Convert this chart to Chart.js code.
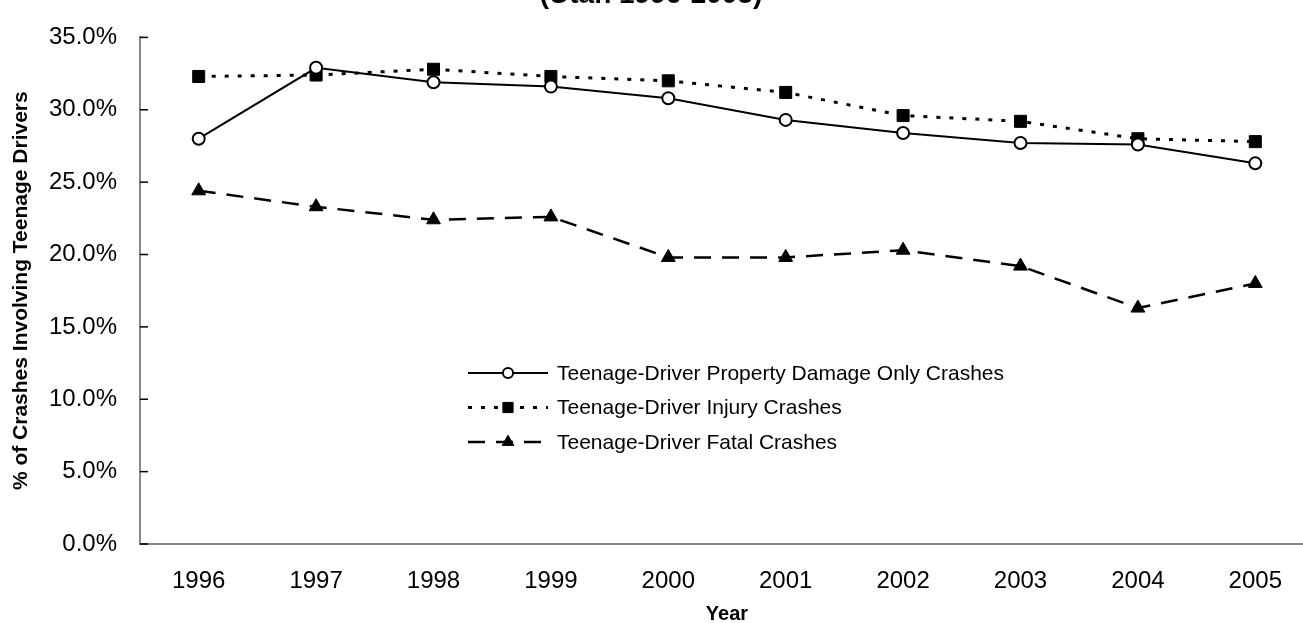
<!DOCTYPE html>
<html>
<head>
<meta charset="utf-8">
<script src="https://cdn.jsdelivr.net/npm/chart.js@4.4.1/dist/chart.umd.min.js"></script>
<style>
  html, body { margin: 0; padding: 0; background: #fff; overflow: hidden; }
  #wrap { position: relative; width: 1330px; height: 623px; }
</style>
</head>
<body>
<div id="wrap"><canvas id="crashChart"></canvas></div>
<script>
// data (% of crashes involving teenage drivers)
const years = ["1996", "1997", "1998", "1999", "2000", "2001", "2002", "2003", "2004", "2005"];
const propertyDamage = [28.0, 32.9, 31.9, 31.6, 30.8, 29.3, 28.4, 27.7, 27.6, 26.3];
const injury = [32.3, 32.4, 32.8, 32.3, 32.0, 31.2, 29.6, 29.2, 28.0, 27.8];
const fatal = [24.4, 23.3, 22.4, 22.6, 19.8, 19.8, 20.3, 19.2, 16.3, 18.0];
const seriesNames = [
  "Teenage-Driver Property Damage Only Crashes",
  "Teenage-Driver Injury Crashes",
  "Teenage-Driver Fatal Crashes",
];
const subTitle = "(Utah 1996-2005)";
const yTitle = "% of Crashes Involving Teenage Drivers";
const xTitle = "Year";

const FONT = "'Liberation Sans', Arial, sans-serif";
Chart.defaults.font.family = FONT;
Chart.defaults.color = "#000";

function drawMarker(ctx, style, x, y, r) {
  ctx.beginPath();
  if (style === "circle") {
    ctx.arc(x, y, r, 0, Math.PI * 2);
  } else if (style === "rect") {
    const s = r * Math.SQRT1_2;
    ctx.rect(x - s, y - s, s * 2, s * 2);
  } else if (style === "triangle") {
    // same shape chart.js uses for its triangle points
    const dx = Math.sin(2 * Math.PI / 3) * r;
    const dy = -Math.cos(2 * Math.PI / 3) * r;
    ctx.moveTo(x, y - r);
    ctx.lineTo(x + dx, y + dy);
    ctx.lineTo(x - dx, y + dy);
    ctx.closePath();
  }
}

// small tick marks pointing into the plot, like the original
const insideTicks = {
  id: "insideTicks",
  beforeDatasetsDraw(chart) {
    const y = chart.scales.y;
    const ctx = chart.ctx;
    const left = chart.chartArea.left;
    ctx.save();
    ctx.strokeStyle = "#000";
    ctx.lineWidth = 1.5;
    y.ticks.forEach((t) => {
      const py = y.getPixelForValue(t.value);
      ctx.beginPath();
      ctx.moveTo(left, py);
      ctx.lineTo(left + 8, py);
      ctx.stroke();
    });
    ctx.restore();
  },
};

// legend sitting inside the plot area
const innerLegend = {
  id: "innerLegend",
  afterDraw(chart, args, opts) {
    const ctx = chart.ctx;
    ctx.save();
    chart.data.datasets.forEach((ds, i) => {
      const y = opts.y + i * opts.gap;
      ctx.strokeStyle = ds.borderColor;
      ctx.lineWidth = ds.borderWidth;
      ctx.setLineDash(ds.borderDash || []);
      ctx.beginPath();
      ctx.moveTo(opts.x, y);
      ctx.lineTo(opts.x + opts.lineLen, y);
      ctx.stroke();
      ctx.setLineDash([]);
      drawMarker(ctx, ds.pointStyle, opts.x + opts.lineLen / 2, y, ds.pointRadius * 0.85);
      ctx.fillStyle = ds.pointBackgroundColor;
      ctx.fill();
      ctx.lineWidth = ds.pointBorderWidth;
      ctx.strokeStyle = ds.pointBorderColor;
      ctx.stroke();
      ctx.fillStyle = "#000";
      ctx.font = opts.font;
      ctx.textAlign = "left";
      ctx.textBaseline = "middle";
      ctx.fillText(ds.label, opts.x + opts.lineLen + 9, y + 1);
    });
    ctx.restore();
  },
};

// only the lower part of the title is inside the picture
const cutTitle = {
  id: "cutTitle",
  afterDraw(chart, args, opts) {
    const ctx = chart.ctx;
    ctx.save();
    ctx.fillStyle = "#000";
    ctx.font = opts.font;
    ctx.textAlign = "center";
    ctx.textBaseline = "alphabetic";
    ctx.fillText(opts.text, opts.x, opts.y);
    ctx.restore();
  },
};

const ctx = document.getElementById("crashChart").getContext("2d");

new Chart(ctx, {
  type: "line",
  data: {
    labels: years,
    datasets: [
      {
        label: seriesNames[0],
        data: propertyDamage,
        borderColor: "#000",
        borderWidth: 2,
        pointStyle: "circle",
        pointRadius: 6,
        pointBackgroundColor: "#fff",
        pointBorderColor: "#000",
        pointBorderWidth: 2,
        tension: 0,
      },
      {
        label: seriesNames[1],
        data: injury,
        borderColor: "#000",
        borderWidth: 3,
        borderDash: [4, 9],
        pointStyle: "rect",
        pointRadius: 8.5,
        pointBackgroundColor: "#000",
        pointBorderColor: "#000",
        pointBorderWidth: 1,
        tension: 0,
      },
      {
        label: seriesNames[2],
        data: fatal,
        borderColor: "#000",
        borderWidth: 2.5,
        borderDash: [17, 11],
        pointStyle: "triangle",
        pointRadius: 8,
        pointBackgroundColor: "#000",
        pointBorderColor: "#000",
        pointBorderWidth: 1,
        tension: 0,
      },
    ],
  },
  options: {
    responsive: true,
    maintainAspectRatio: false,
    animation: false,
    layout: { padding: { left: 0, top: 20, right: 16, bottom: 0 } },
    plugins: {
      legend: { display: false },
      tooltip: { enabled: false },
      innerLegend: { x: 468, y: 373, gap: 34.5, lineLen: 80, font: "21px " + FONT },
      cutTitle: { text: subTitle, x: 651, y: 3, font: "bold 28px " + FONT },
    },
    scales: {
      x: {
        type: "category",
        offset: true,
        grid: { display: false, drawTicks: false },
        border: { display: true, color: "#888", width: 2 },
        ticks: { font: { size: 24 }, padding: 23, maxRotation: 0, autoSkip: false },
        title: {
          display: true,
          text: xTitle,
          font: { size: 20, weight: "bold", lineHeight: 1 },
          padding: { top: 0, bottom: -1 },
        },
        afterFit(scale) {
          scale.height = 79;
        },
      },
      y: {
        min: 0,
        max: 35,
        grid: { display: false, drawTicks: false },
        border: { display: true, color: "#888", width: 2 },
        ticks: {
          stepSize: 5,
          font: { size: 24 },
          padding: 23,
          callback: (v) => v.toFixed(1) + "%",
        },
        title: {
          display: true,
          text: yTitle,
          font: { size: 21, weight: "bold" },
          padding: { top: 8.4, bottom: 0 },
        },
        afterFit(scale) {
          scale.width = 140;
        },
      },
    },
  },
  plugins: [insideTicks, innerLegend, cutTitle],
});
</script>
</body>
</html>
